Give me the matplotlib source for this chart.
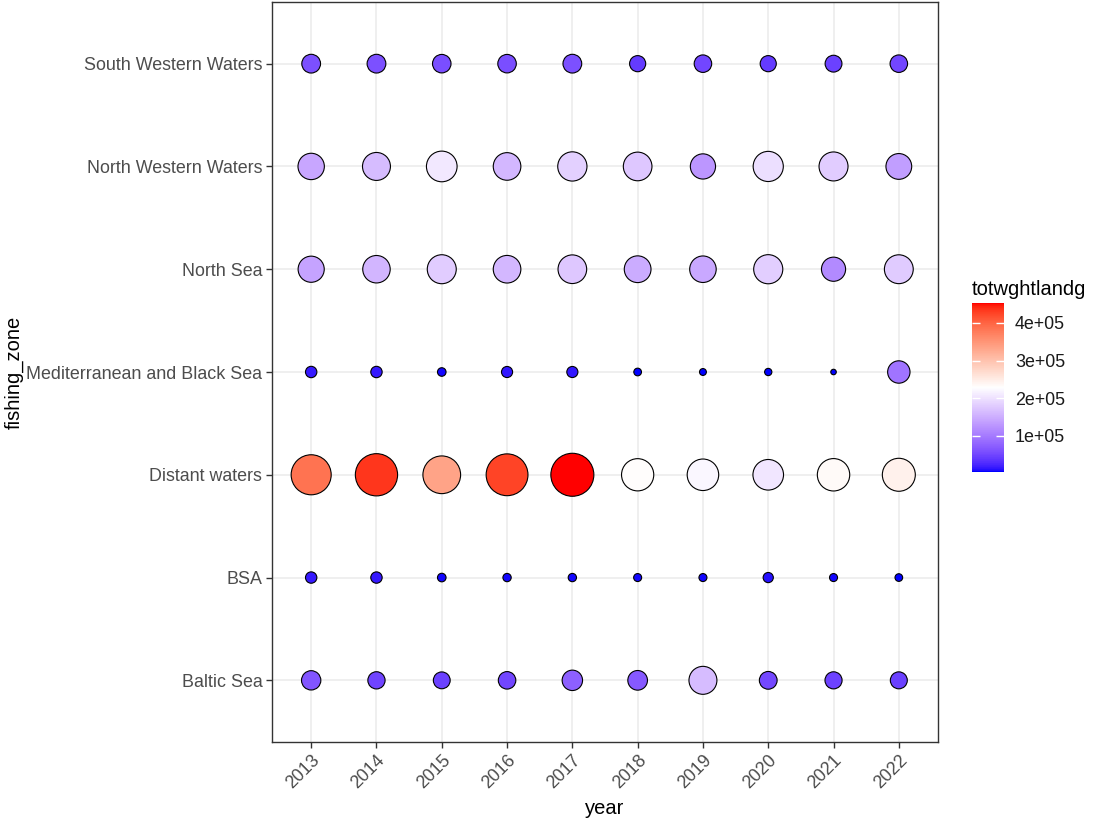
import matplotlib

matplotlib.use("Agg")
import matplotlib.pyplot as plt
import numpy as np
from matplotlib.colors import LinearSegmentedColormap, Normalize

plt.rcParams["font.family"] = ["Liberation Sans", "DejaVu Sans"]

YEARS = [2013, 2014, 2015, 2016, 2017, 2018, 2019, 2020, 2021, 2022]
# bottom to top, as the discrete axis orders them
ZONES = [
    "Baltic Sea",
    "BSA",
    "Distant waters",
    "Mediterranean and Black Sea",
    "North Sea",
    "North Western Waters",
    "South Western Waters",
]

# total landed weight per zone, one value per year
baltic_sea = [65000, 48000, 45000, 50000, 75000, 68000, 165000, 52000, 47000, 46000]
bsa = [15000, 15000, 7000, 6500, 6500, 6000, 6000, 11000, 6000, 5500]
distant_waters = [385000, 435000, 335000, 425000, 453000, 232000, 220000, 205000, 235000, 245000]
med_black_sea = [15000, 15000, 7000, 14000, 14000, 5500, 4600, 5000, 4000, 95000]
north_sea = [140000, 158000, 180000, 160000, 175000, 148000, 145000, 182000, 115000, 178000]
north_western = [143000, 165000, 206000, 160000, 184000, 175000, 128000, 198000, 180000, 135000]
south_western = [60000, 60000, 58000, 58000, 60000, 40000, 50000, 40000, 45000, 50000]

VALUES = np.array([baltic_sea, bsa, distant_waters, med_black_sea,
                   north_sea, north_western, south_western], dtype=float)
CBAR_TICKS = [100000, 200000, 300000, 400000]
CBAR_LABELS = ["1e+05", "2e+05", "3e+05", "4e+05"]

DPI = 100


def _srgb_to_lab(rgb):
    rgb = np.asarray(rgb, dtype=float)
    lin = np.where(rgb <= 0.04045, rgb / 12.92, ((rgb + 0.055) / 1.055) ** 2.4)
    m = np.array([[0.4124, 0.3576, 0.1805], [0.2126, 0.7152, 0.0722], [0.0193, 0.1192, 0.9505]])
    xyz = m @ lin / np.array([0.95047, 1.0, 1.08883])
    f = np.where(xyz > 0.008856, np.cbrt(xyz), 7.787 * xyz + 16 / 116)
    return np.array([116 * f[1] - 16, 500 * (f[0] - f[1]), 200 * (f[1] - f[2])])


def _lab_to_srgb(lab):
    L, a, b = lab
    fy = (L + 16) / 116
    f = np.array([fy + a / 500, fy, fy - b / 200])
    xyz = np.where(f ** 3 > 0.008856, f ** 3, (f - 16 / 116) / 7.787)
    xyz = xyz * np.array([0.95047, 1.0, 1.08883])
    m = np.array([[3.2406, -1.5372, -0.4986], [-0.9689, 1.8758, 0.0415], [0.0557, -0.2040, 1.0570]])
    lin = np.clip(m @ xyz, 0, 1)
    return np.where(lin <= 0.0031308, 12.92 * lin, 1.055 * lin ** (1 / 2.4) - 0.055)


def lab_ramp(stops, n=256):
    # ggplot-style gradient: interpolate the stops in CIELAB
    labs = [_srgb_to_lab(s) for s in stops]
    pos = np.linspace(0, 1, len(stops))
    out = []
    for t in np.linspace(0, 1, n):
        i = min(int(np.searchsorted(pos, t, side="right")) - 1, len(stops) - 2)
        u = (t - pos[i]) / (pos[i + 1] - pos[i])
        out.append(np.clip(_lab_to_srgb(labs[i] * (1 - u) + labs[i + 1] * u), 0, 1))
    return LinearSegmentedColormap.from_list("bwr_lab", out)


cmap = lab_ramp([(0, 0, 1), (1, 1, 1), (1, 0, 0)])
vmin, vmax = VALUES.min(), VALUES.max()
norm = Normalize(vmin, vmax)

fig = plt.figure(figsize=(1094 / DPI, 821 / DPI), dpi=DPI)
ax = fig.add_axes([272 / 1094, 79 / 821, 666 / 1094, 740 / 821])

xx, yy = np.meshgrid(np.arange(len(YEARS)), np.arange(len(ZONES)))
vals = VALUES.ravel()
# area-type size scale: diameter grows with sqrt of rescaled value
dia_px = 5.5 + (43 - 5.5) * np.sqrt((vals - vmin) / (vmax - vmin))
sizes = (dia_px * 72 / DPI) ** 2

ax.scatter(xx.ravel(), yy.ravel(), s=sizes, c=vals, cmap=cmap, norm=norm,
           edgecolors="black", linewidths=0.8, zorder=3)

ax.set_xlim(-0.6, len(YEARS) - 0.4)
ax.set_ylim(-0.6, len(ZONES) - 0.4)
ax.set_xticks(range(len(YEARS)))
ax.set_xticklabels([str(y) for y in YEARS], rotation=45, ha="right", va="top",
                   rotation_mode="anchor")
ax.set_yticks(range(len(ZONES)))
ax.set_yticklabels(ZONES)
ax.grid(True, color="#EBEBEB", linewidth=1.1, zorder=0)
ax.set_axisbelow(True)
ax.tick_params(axis="both", length=4, width=1.0, color="#333333",
               labelcolor="#4D4D4D", labelsize=12.9, pad=3)
for sp in ax.spines.values():
    sp.set_color("#333333")
    sp.set_linewidth(1.0)
ax.set_xlabel("year", fontsize=14.5, labelpad=5)
ax.set_ylabel("fishing_zone", fontsize=14.5, labelpad=2)

cax = fig.add_axes([972 / 1094, (821 - 472) / 821, 32 / 1094, 169 / 821])
cb = fig.colorbar(plt.cm.ScalarMappable(norm=norm, cmap=cmap), cax=cax)
cb.outline.set_visible(False)
cb.set_ticks(CBAR_TICKS)
cb.set_ticklabels(CBAR_LABELS)
cax.yaxis.set_ticks_position("both")
cax.tick_params(direction="in", length=6, width=1.0, color="white",
                labelsize=12.9, labelcolor="#1A1A1A", labelleft=False, labelright=True, pad=8)
cax.set_title("totwghtlandg", fontsize=14.5, loc="left", pad=6)

fig.savefig("out.png", dpi=DPI)
